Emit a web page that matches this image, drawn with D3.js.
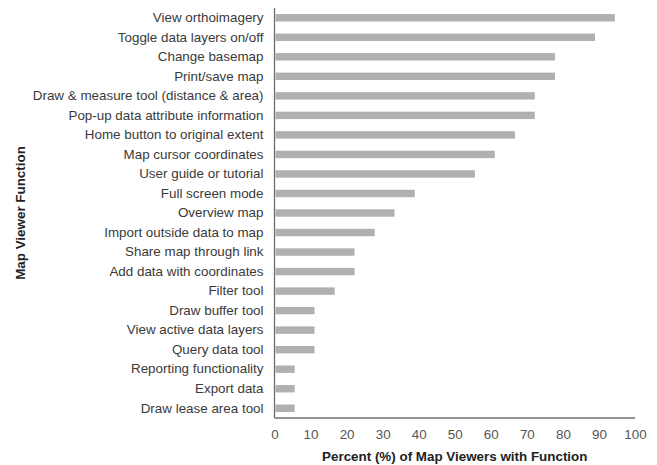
<!DOCTYPE html>
<html>
<head>
<meta charset="utf-8">
<script src="https://cdn.jsdelivr.net/npm/d3@7"></script>
<style>
  body { margin: 0; background: #fff; }
  svg { font-family: "Liberation Sans", Arial, sans-serif; }
</style>
</head>
<body>
<svg id="chart" width="657" height="465"></svg>
<script>
var categories = [
    "View orthoimagery", "Toggle data layers on/off", "Change basemap", "Print/save map",
    "Draw & measure tool (distance & area)", "Pop-up data attribute information",
    "Home button to original extent", "Map cursor coordinates", "User guide or tutorial",
    "Full screen mode", "Overview map", "Import outside data to map", "Share map through link",
    "Add data with coordinates", "Filter tool", "Draw buffer tool", "View active data layers",
    "Query data tool", "Reporting functionality", "Export data", "Draw lease area tool"
];
var values = [94.4, 88.9, 77.8, 77.8, 72.2, 72.2, 66.7, 61.1, 55.6, 38.9, 33.3, 27.8,
    22.2, 22.2, 16.7, 11.1, 11.1, 11.1, 5.6, 5.6, 5.6];
var xTicks = [0, 10, 20, 30, 40, 50, 60, 70, 80, 90, 100];

var margin = {top: 8, right: 22, bottom: 47, left: 274.5};
var svg = d3.select('#chart');
var width = 657 - margin.left - margin.right;
var height = 465 - margin.top - margin.bottom;
var fontSize = '13.4px';

var g = svg.append('g')
    .attr('transform', 'translate(' + margin.left + ',' + margin.top + ')');

var x = d3.scaleLinear().domain([0, 100]).range([0, width]);
var y = d3.scaleBand().domain(categories).range([0, height]).paddingInner(0.62).paddingOuter(0.31);

// bars
g.selectAll('rect.bar')
    .data(values)
    .enter()
    .append('rect')
    .attr('class', 'bar')
    .attr('x', 1)
    .attr('y', function (d, i) { return y(categories[i]); })
    .attr('width', function (d) { return x(d) - 1; })
    .attr('height', y.bandwidth())
    .attr('fill', '#b0b0b0');

// y axis labels
var yAxis = g.append('g').call(d3.axisLeft(y).tickSize(0).tickPadding(11));
yAxis.select('.domain').remove();
yAxis.selectAll('text')
    .attr('fill', '#3a3a3a')
    .style('font-size', fontSize);

// x axis labels
var xAxis = g.append('g')
    .attr('transform', 'translate(0,' + height + ')')
    .call(d3.axisBottom(x).tickValues(xTicks).tickSize(0).tickPadding(11));
xAxis.select('.domain').remove();
xAxis.selectAll('text')
    .attr('fill', '#555')
    .style('font-size', fontSize);

// axis lines
g.append('line')
    .attr('x1', 0).attr('x2', 0).attr('y1', 0).attr('y2', height)
    .attr('stroke', '#6e6e6e').attr('stroke-width', 1.3);
g.append('line')
    .attr('x1', 0).attr('x2', width).attr('y1', height).attr('y2', height)
    .attr('stroke', '#6e6e6e').attr('stroke-width', 1.3);

// titles
svg.append('text')
    .attr('x', margin.left + width / 2)
    .attr('y', 461)
    .attr('text-anchor', 'middle')
    .attr('fill', '#222')
    .style('font-size', fontSize)
    .style('font-weight', 'bold')
    .text('Percent (%) of Map Viewers with Function');

svg.append('text')
    .attr('transform', 'translate(25,' + (margin.top + height / 2) + ') rotate(-90)')
    .attr('text-anchor', 'middle')
    .attr('fill', '#222')
    .style('font-size', fontSize)
    .style('font-weight', 'bold')
    .text('Map Viewer Function');
</script>
</body>
</html>
